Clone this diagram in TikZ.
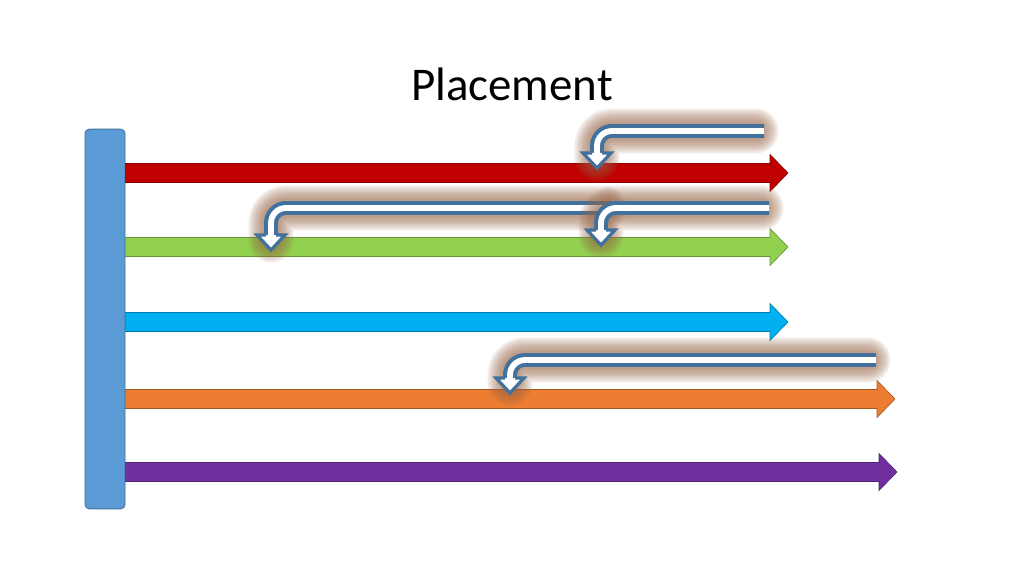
\documentclass[tikz,border=0pt]{standalone}
\usepackage{fontspec}
\setmainfont{Carlito}
\usetikzlibrary{calc, positioning}

\definecolor{railblue}{HTML}{5B9BD5}
\definecolor{railedge}{HTML}{41719C}
\definecolor{lanered}{HTML}{C00000}
\definecolor{lanegreen}{HTML}{92D050}
\definecolor{laneblue}{HTML}{00B0F0}
\definecolor{laneorange}{HTML}{ED7D31}
\definecolor{lanepurple}{HTML}{7030A0}
\definecolor{moveedge}{HTML}{41719C}
\definecolor{moveglow}{RGB}{150,100,70}

\tikzset{
  rail/.style={rectangle, draw=railedge, fill=railblue, rounded corners=4pt,
    minimum width=37.5pt, minimum height=356pt, inner sep=0pt, line width=0.8pt},
  lane/.style={fill=#1, draw=#1!70!black, line width=0.6pt},
  glow/.style={draw=moveglow, opacity=0.13, line cap=round, line join=round, rounded corners=14},
  moveline/.style={draw=moveedge, line width=3.8pt, double=white, double distance=5.5pt, rounded corners=14},
  movehead/.style={draw=moveedge, fill=white, line width=3pt, line join=miter}
}

\begin{document}
\begin{tikzpicture}[x=0.9375pt, y=-0.9375pt]
    \useasboundingbox (0,0) rectangle (1024,576);

    \node[font=\fontsize{44}{50}\selectfont, anchor=base] (title) at (512,101) {Placement};

    \node[rail] (rail) at (105,319) {};

    % lanes
    \foreach \i/\col/\y/\xe in {1/lanered/173/788, 2/lanegreen/247/788, 3/laneblue/322/788,
                               4/laneorange/399/895, 5/lanepurple/472/897} {
        \coordinate (lane\i) at (\xe,\y);
        \filldraw[lane=\col] ($(rail.east |- lane\i)+(0,-9.5)$) -- ($(lane\i)+(-18,-9.5)$)
            -- ($(lane\i)+(-18,-18.5)$) -- (lane\i) -- ($(lane\i)+(-18,18.5)$)
            -- ($(lane\i)+(-18,9.5)$) -- ($(rail.east |- lane\i)+(0,9.5)$) -- cycle;
    }

    % moves
    \coordinate (m1s) at (764,131); \coordinate (m1t) at (597,168);
    \coordinate (m2s) at (769,208); \coordinate (m2t) at (601,245);
    \coordinate (m3s) at (612,208); \coordinate (m3t) at (271,250);
    \coordinate (m4s) at (876,360); \coordinate (m4t) at (510,393);

    \foreach \s/\t in {m1s/m1t, m3s/m3t, m2s/m2t, m4s/m4t} {
        \foreach \w in {42,38,34,30,26,22,18}
            \draw[glow, line width=\w pt] ($(\s)+(-8,0)$) -| ($(\t)+(0,-10)$);
        \draw[moveline] (\s) -| ($(\t)+(0,-15)$);
        \filldraw[movehead] ($(\t)+(-5,-15)$) -- ($(\t)+(-14,-15)$) -- (\t)
            -- ($(\t)+(14,-15)$) -- ($(\t)+(5,-15)$);
    }
\end{tikzpicture}
\end{document}
